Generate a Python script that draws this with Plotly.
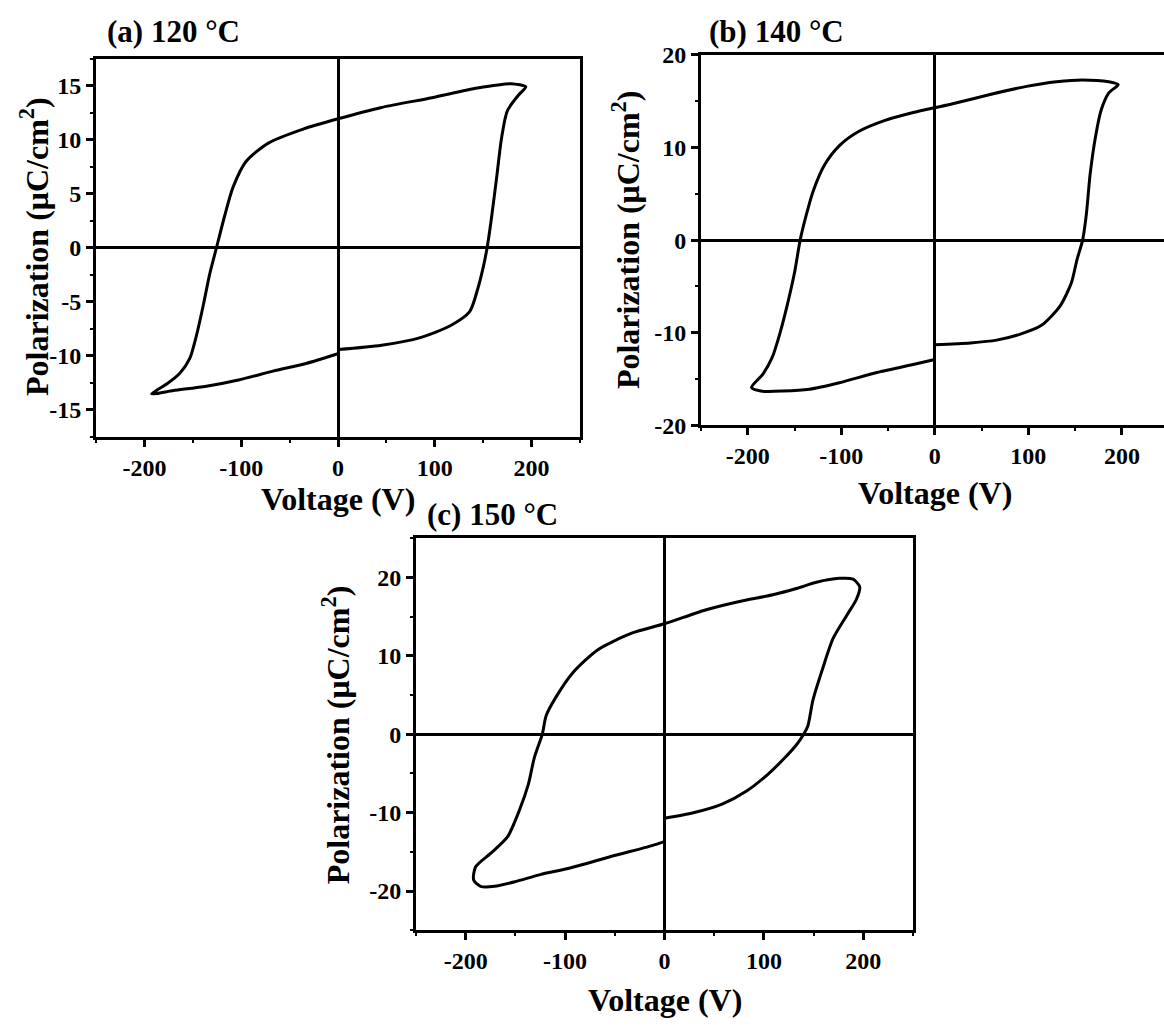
import plotly.graph_objects as go

# ---- Data ----
# (a) 120 °C
va = [0, 45, 85, 116, 136, 144, 150, 154, 158, 164, 169, 175, 187, 194,
      179, 144, 97, 45, 0, -36, -72, -95, -108.5, -117, -125.6, -132.5, -139.4, -146.2, -153, -163.4, -177, -192.6,
      -170, -136, -101.6, -67, -33, 0]
pa = [-9.4, -9.0, -8.3, -7.2, -5.9, -3.9, -1.8, 0, 2.4, 6.6, 10.2, 12.7, 14.2, 14.9,
      15.2, 14.8, 13.9, 13.0, 11.95, 11.0, 9.7, 8.0, 5.6, 3.0, 0, -2.4, -5.4, -8.1, -10.2, -11.6, -12.6, -13.5,
      -13.2, -12.8, -12.2, -11.4, -10.7, -9.8]

# (b) 140 °C
vb = [0, 38, 66, 90, 114, 134, 146, 152, 158, 162, 166, 172, 178, 186, 196,
      186, 158, 130, 98, 58, 18, 0, -22, -54, -82, -102, -118, -130, -138, -144, -150, -158, -166, -174, -184, -196,
      -186, -162, -134, -102, -62, -22, 0]
pb = [-11.3, -11.1, -10.8, -10.2, -9.2, -7.1, -4.6, -2.1, 0, 2.8, 7.1, 11.3, 14.1, 15.9, 16.8,
      17.1, 17.3, 17.1, 16.6, 15.7, 14.7, 14.3, 13.8, 12.9, 11.7, 10.2, 8.1, 5.3, 2.5, 0, -3.5, -7.1, -10.2, -12.7, -14.5, -15.9,
      -16.3, -16.3, -16.1, -15.4, -14.3, -13.4, -12.9]

# (c) 150 °C
vc = [0, 29, 58, 83, 104, 121, 133, 140, 144.3, 149.4, 159.4, 169.5, 183, 193, 196.4, 189.7,
      176, 152.8, 132.6, 109, 75.5, 42, 0, -33, -67, -92, -108, -119, -123, -131, -137, -146, -158, -175, -190, -192,
      -185, -171, -150, -125, -96, -54, -12.5, 0]
pc = [-10.7, -10.0, -8.9, -7.2, -5.1, -3.0, -1.3, 0, 1.1, 4.4, 8.5, 12.2, 15.1, 17.2, 18.8, 19.8,
      19.9, 19.4, 18.6, 17.8, 16.95, 15.9, 14.1, 12.9, 10.8, 7.9, 5.0, 2.4, 0, -3.0, -6.4, -9.7, -13.1, -15.2, -16.9, -18.6,
      -19.4, -19.4, -18.8, -17.9, -17.1, -15.6, -14.2, -13.7]

panel_titles = ["(a) 120 °C", "(b) 140 °C", "(c) 150 °C"]
x_title = "Voltage (V)"
y_title = "Polarization (μC/cm<sup>2</sup>)"
x_ticks = [-200, -100, 0, 100, 200]
ya_ticks = [-15, -10, -5, 0, 5, 10, 15]
yb_ticks = [-20, -10, 0, 10, 20]
yc_ticks = [-20, -10, 0, 10, 20]

W, H = 1164, 1029
FONT = "Liberation Serif"

def px(x):
    return x / W

def py(y):
    return 1 - y / H

def labels(vals):
    return ["<b>%d</b>" % v for v in vals]

fig = go.Figure()
line = dict(color="black", width=3, shape="spline", smoothing=0.7)
fig.add_trace(go.Scatter(x=va, y=pa, mode="lines", line=line, xaxis="x", yaxis="y", showlegend=False))
fig.add_trace(go.Scatter(x=vb, y=pb, mode="lines", line=line, xaxis="x2", yaxis="y2", showlegend=False))
fig.add_trace(go.Scatter(x=vc, y=pc, mode="lines", line=line, xaxis="x3", yaxis="y3", showlegend=False))

tickfont = dict(family=FONT, size=24, color="black", weight="bold")
titlefont = dict(family=FONT, size=32, color="black", weight="bold")

def xax(domain, anchor, rng, mirror=True):
    return dict(domain=domain, anchor=anchor, range=rng, tickvals=x_ticks, ticktext=labels(x_ticks),
                showline=True, linecolor="black", linewidth=3, mirror=mirror,
                ticks="outside", ticklen=7, tickwidth=2.5, tickcolor="black",
                minor=dict(dtick=50, ticks="outside", ticklen=3, tickwidth=2, tickcolor="black"),
                zeroline=True, zerolinecolor="black", zerolinewidth=2.5,
                showgrid=False, tickfont=tickfont)

def yax(domain, anchor, rng, ticks, minor, mirror=True):
    return dict(domain=domain, anchor=anchor, range=rng, tickvals=ticks, ticktext=labels(ticks),
                showline=True, linecolor="black", linewidth=3, mirror=mirror,
                ticks="outside", ticklen=7, tickwidth=2.5, tickcolor="black",
                minor=dict(dtick=minor, ticks="outside", ticklen=3, tickwidth=2, tickcolor="black"),
                zeroline=True, zerolinecolor="black", zerolinewidth=2.5,
                showgrid=False, tickfont=tickfont)

fig.update_layout(
    width=W, height=H, margin=dict(l=0, r=0, t=0, b=0),
    paper_bgcolor="white", plot_bgcolor="white",
    font=dict(family=FONT, color="black"),
    xaxis=xax([px(96), px(580)], "y", [-250, 250]),
    yaxis=yax([py(435), py(47)], "x", [-17.5, 17.5], ya_ticks, 2.5),
    xaxis2=xax([px(701), 1.0], "y2", [-250, 245]),
    yaxis2=yax([py(423), py(43)], "x2", [-20, 20], yb_ticks, 5, mirror=False),
    xaxis3=xax([px(416), px(913)], "y3", [-250, 250]),
    yaxis3=yax([py(941), py(539)], "x3", [-25, 25], yc_ticks, 5),
)

# panel titles
title_pos = [(105, 19), (707, 19), (425, 515)]
for t, (x, y) in zip(panel_titles, title_pos):
    fig.add_annotation(text=t, x=px(x), y=py(y), xref="paper", yref="paper",
                       xanchor="left", yanchor="middle", showarrow=False,
                       font=dict(family=FONT, size=31, color="black", weight="bold"))

# x-axis titles
for (x, y) in [(338, 499), (935, 492), (665, 1013)]:
    fig.add_annotation(text=x_title, x=px(x), y=py(y), xref="paper", yref="paper",
                       xanchor="center", yanchor="middle", showarrow=False, font=titlefont)

# y-axis titles
for (x, y) in [(34, 240), (626, 233), (336, 740)]:
    fig.add_annotation(text=y_title, x=px(x), y=py(y), xref="paper", yref="paper",
                       xanchor="center", yanchor="middle", showarrow=False, textangle=-90,
                       font=titlefont)

fig.write_html("out.html")
